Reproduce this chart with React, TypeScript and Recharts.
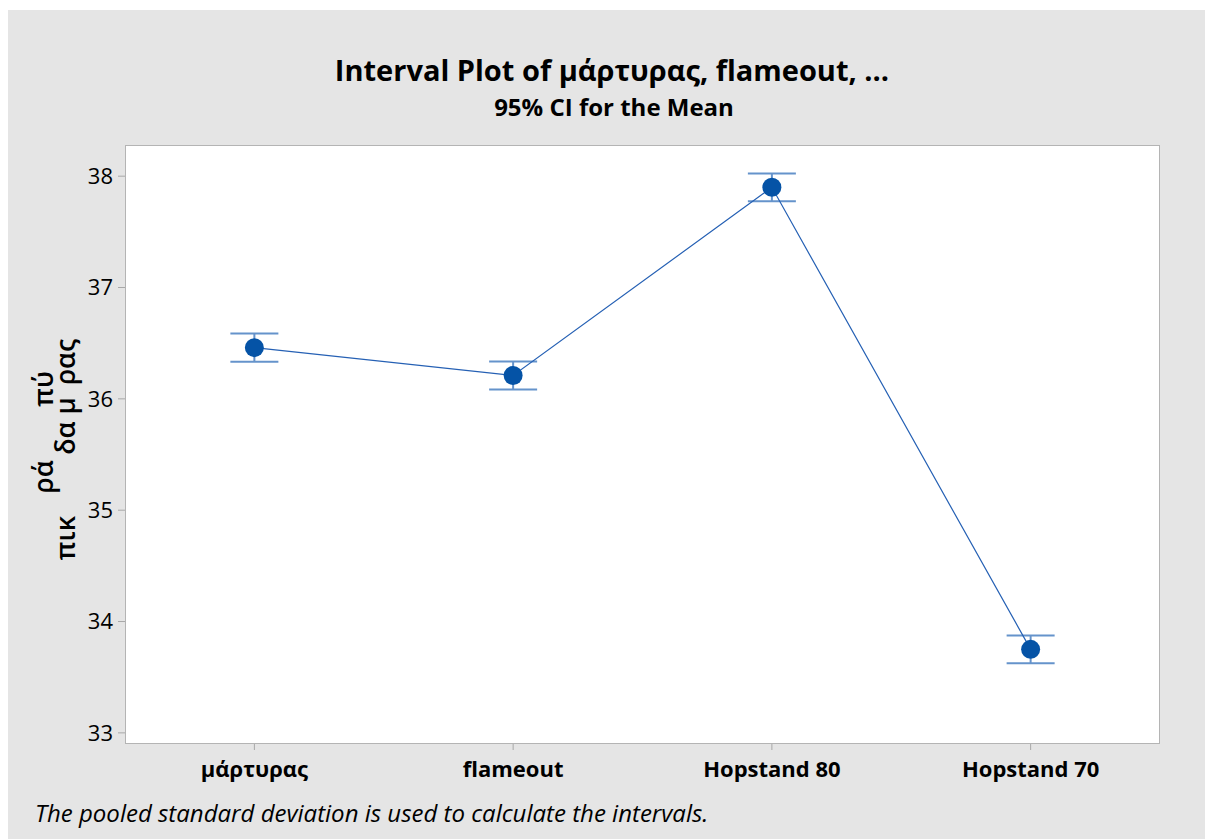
import { ComposedChart, Line, XAxis, YAxis, ErrorBar } from "recharts";

const categories = ["μάρτυρας", "flameout", "Hopstand 80", "Hopstand 70"];
const means = [36.46, 36.21, 37.9, 33.75];
const ciHalfWidth = [0.126, 0.125, 0.125, 0.124];
const yTicks = [33, 34, 35, 36, 37, 38];

const data = categories.map((name, i) => ({
  pos: i + 1,
  name,
  mean: means[i],
  ci: ciHalfWidth[i],
}));

const FONT = "'Open Sans', 'Noto Sans', sans-serif";
const W = 1197;
const H = 829;
const plot = { x: 117, y: 135, w: 1035, h: 599 };

export default function App() {
  return (
    <div
      style={{
        position: "absolute",
        left: 8,
        top: 10,
        width: W,
        height: H,
        background: "#e5e5e5",
        fontFamily: FONT,
      }}
    >
      <div
        style={{
          position: "absolute",
          left: plot.x,
          top: plot.y,
          width: plot.w,
          height: plot.h,
          background: "#fff",
          boxSizing: "border-box",
          border: "1px solid #b4b4b4",
        }}
      />
      <div style={{ position: "absolute", left: 0, top: 0 }}>
        <ComposedChart
          width={W}
          height={H}
          data={data}
          margin={{ top: plot.y, right: W - plot.x - plot.w, left: plot.x - 60, bottom: H - plot.y - plot.h - 40 }}
        >
          <XAxis
            type="number"
            dataKey="pos"
            domain={[0.5, 4.5]}
            ticks={[1, 2, 3, 4]}
            tickFormatter={(v: number) => categories[v - 1]}
            height={40}
            axisLine={false}
            tickSize={6}
            tickMargin={11}
            tickLine={{ stroke: "#a8a8a8" }}
            tick={{ fill: "#000", fontSize: 22, fontWeight: 700, fontFamily: FONT }}
          />
          <YAxis
            type="number"
            domain={[32.9, 38.28]}
            ticks={yTicks}
            width={60}
            axisLine={false}
            tickSize={7}
            tickMargin={5}
            tickLine={{ stroke: "#a8a8a8" }}
            tick={{ fill: "#000", fontSize: 22, fontFamily: FONT }}
            allowDataOverflow
          />
          <Line
            dataKey="mean"
            stroke="#2560b4"
            strokeWidth={1.2}
            isAnimationActive={false}
            dot={{ r: 9.5, fill: "#0553a6", stroke: "#0553a6", strokeWidth: 0 }}
            activeDot={false}
          >
            <ErrorBar dataKey="ci" direction="y" width={24} stroke="#6593cb" strokeWidth={2} />
          </Line>
        </ComposedChart>
      </div>
      <svg
        width={W}
        height={H}
        style={{ position: "absolute", left: 0, top: 0, pointerEvents: "none" }}
        fontFamily={FONT}
      >
        <text x={604} y={71} textAnchor="middle" fontSize={29} fontWeight={700} fill="#000">
          Interval Plot of μάρτυρας, flameout, ...
        </text>
        <text x={606} y={106} textAnchor="middle" fontSize={24} fontWeight={700} fill="#000">
          95% CI for the Mean
        </text>
        <g fontSize={27} fontWeight={600} fill="#000" textAnchor="middle">
          <text transform="translate(67,528) rotate(-90)">πικ</text>
          <text transform="translate(45,467) rotate(-90)">ρά</text>
          <text transform="translate(67,416) rotate(-90)">δα μ</text>
          <text transform="translate(45,379) rotate(-90)">πύ</text>
          <text transform="translate(67,352) rotate(-90)">ρας</text>
        </g>
        <text x={27} y={812} fontSize={24} fontStyle="italic" fill="#000">
          The pooled standard deviation is used to calculate the intervals.
        </text>
      </svg>
    </div>
  );
}
